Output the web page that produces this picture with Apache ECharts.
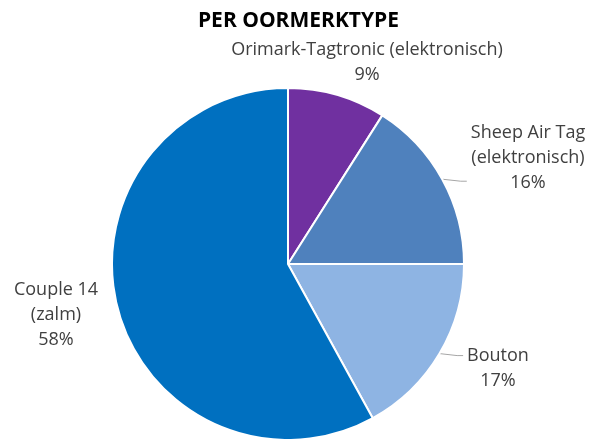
<!DOCTYPE html>
<html>
<head>
<meta charset="utf-8">
<script src="https://cdn.jsdelivr.net/npm/echarts@6/dist/echarts.min.js"></script>
<style>
  html, body { margin: 0; padding: 0; background: #fff; }
  #chart { width: 597px; height: 439px; }
</style>
</head>
<body>
<div id="chart"></div>
<script>
// oormerktypes en hun aandeel (%)
var typeNames = ['Orimark-Tagtronic (elektronisch)', 'Sheep Air Tag\n(elektronisch)', 'Bouton', 'Couple 14\n(zalm)']
var typeValues = [9, 16, 17, 58]
var typeColors = ['#7030A0', '#4F81BD', '#8EB4E3', '#0070C0']

// waar Excel de labels neerzet (midden van het labelblok)
var labelSpots = [[367, 62], [528, 158], [498, 368], [56, 315]]

var pieCenter = [288, 264]
var pieRadius = 176

var chart = echarts.init(document.getElementById('chart'))

var total = typeValues.reduce(function (a, b) { return a + b }, 0)

var pieData = typeNames.map(function (name, i) {
  return {
    name: name,
    value: typeValues[i],
    itemStyle: { color: typeColors[i] },
    labelLine: { show: i === 1 || i === 2 }
  }
})

// beginpunt van de verbindingslijn: rand van het taartstuk, midden van de hoek
function edgePoint (idx) {
  var before = 0
  for (var i = 0; i < idx; i++) before += typeValues[i]
  var frac = (before + typeValues[idx] / 2) / total
  var a = frac * Math.PI * 2
  return [pieCenter[0] + pieRadius * Math.sin(a), pieCenter[1] - pieRadius * Math.cos(a)]
}

chart.setOption({
  animation: false,
  title: {
    text: 'PER OORMERKTYPE',
    left: 'center',
    top: 6,
    textStyle: {
      fontFamily: 'Open Sans',
      fontWeight: 'bold',
      fontSize: 21,
      color: '#000'
    }
  },
  series: [{
    type: 'pie',
    center: pieCenter,
    radius: pieRadius,
    startAngle: 90,
    clockwise: true,
    data: pieData,
    itemStyle: { borderColor: '#fff', borderWidth: 2 },
    label: {
      show: true,
      position: 'outside',
      formatter: '{b}\n{d}%',
      fontFamily: 'Open Sans',
      fontSize: 18,
      lineHeight: 25,
      color: '#404040',
      align: 'center',
      overflow: 'none'
    },
    labelLine: {
      show: true,
      lineStyle: { color: '#A6A6A6', width: 1 }
    },
    labelLayout: function (p) {
      var s = labelSpots[p.dataIndex]
      var out = { x: s[0], y: s[1], align: 'center', verticalAlign: 'middle' }
      if (p.dataIndex === 1 || p.dataIndex === 2) {
        var start = edgePoint(p.dataIndex)
        var left = s[0] - p.labelRect.width / 2 - 4
        out.labelLinePoints = [start, [left - 6, start[1] + 2], [left, start[1] + 2]]
      }
      return out
    }
  }]
})
</script>
</body>
</html>
